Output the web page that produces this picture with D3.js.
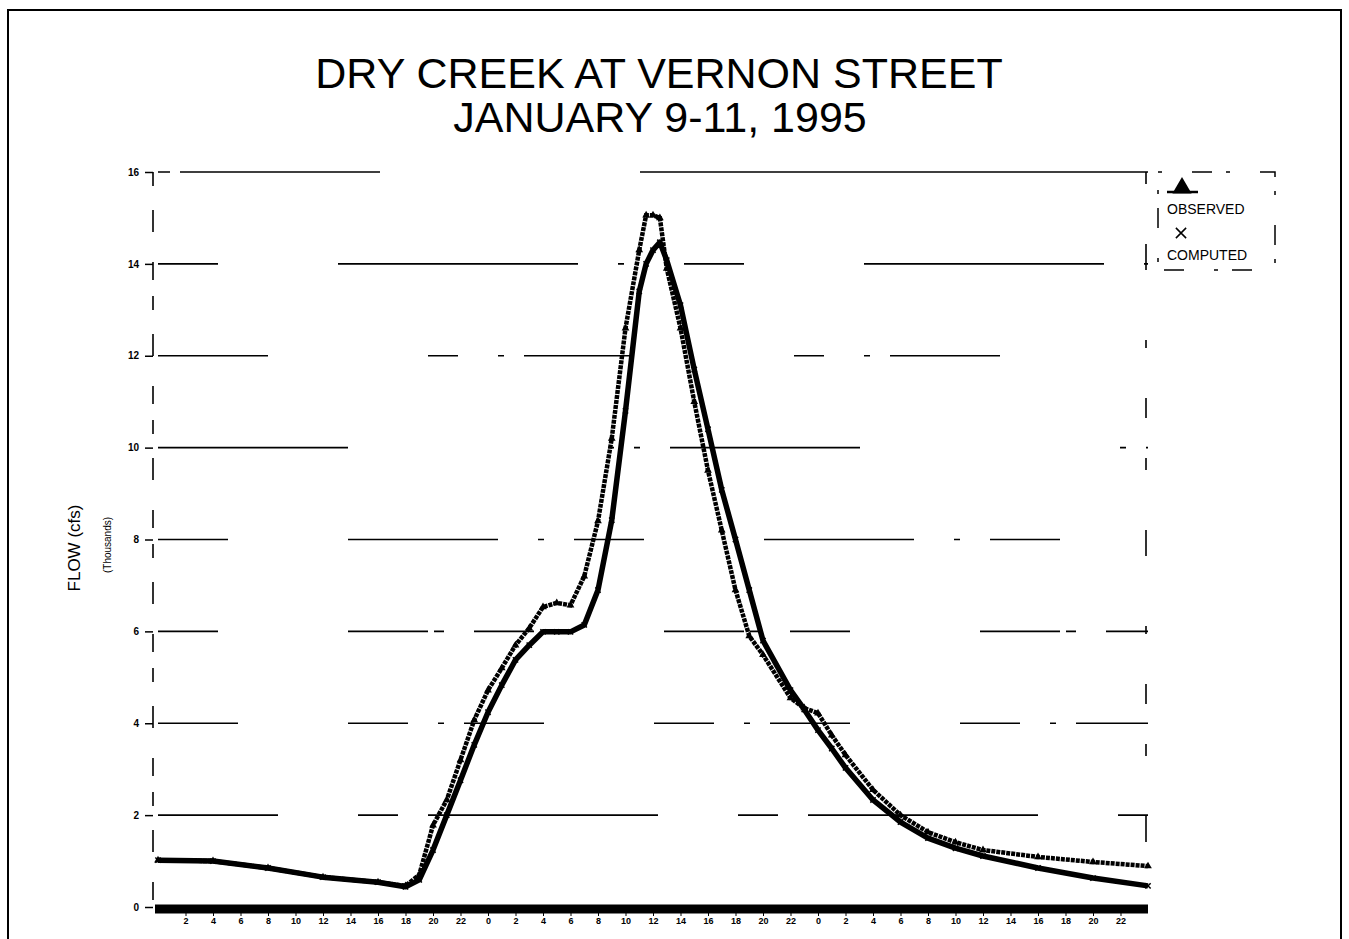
<!DOCTYPE html>
<html>
<head>
<meta charset="utf-8">
<script src="https://cdn.jsdelivr.net/npm/d3@7"></script>
<style>
  body { margin: 0; background: #fff; }
  svg { display: block; font-family: "Liberation Sans", Arial, sans-serif; }
</style>
</head>
<body>
<svg id="chart" width="1349" height="939"></svg>
<script>
// hours since 0:00 Jan 9 1995
var hours = [0, 4, 8, 12, 16, 18, 19, 20, 21, 22, 23, 24, 25, 26, 27, 28, 29, 30, 31, 32, 33, 34, 35, 35.5, 36, 36.5, 37, 38, 39, 40, 41, 42, 43, 44, 46, 47, 48, 49, 50, 52, 54, 56, 58, 60, 64, 68, 72];

// flow, thousands cfs
var observed = [1.02, 1.0, 0.85, 0.65, 0.54, 0.46, 0.7, 1.78, 2.33, 3.2, 4.07, 4.72, 5.2, 5.7, 6.07, 6.53, 6.62, 6.57, 7.2, 8.4, 10.2, 12.6, 14.3, 15.06, 15.06, 15.0, 13.9, 12.6, 11.0, 9.5, 8.2, 6.9, 5.9, 5.49, 4.55, 4.33, 4.22, 3.74, 3.31, 2.55, 2.0, 1.63, 1.41, 1.24, 1.09, 0.98, 0.89];
var computed = [1.02, 1.0, 0.85, 0.65, 0.54, 0.44, 0.59, 1.24, 2.0, 2.76, 3.53, 4.24, 4.83, 5.38, 5.7, 5.99, 5.99, 5.99, 6.14, 6.9, 8.42, 10.8, 13.4, 14.0, 14.3, 14.47, 14.08, 13.1, 11.7, 10.4, 9.08, 8.0, 6.9, 5.8, 4.72, 4.3, 3.85, 3.45, 3.03, 2.33, 1.85, 1.5, 1.28, 1.11, 0.85, 0.63, 0.46];

var yTicks = [0, 2, 4, 6, 8, 10, 12, 14, 16];
var xTicks = d3.range(2, 72, 2);

var svg = d3.select("#chart");

// outer frame
svg.append("rect")
  .attr("x", 8).attr("y", 10)
  .attr("width", 1333).attr("height", 940)
  .attr("fill", "none").attr("stroke", "#000").attr("stroke-width", 2);

// title
svg.append("text")
  .attr("x", 659).attr("y", 88)
  .attr("text-anchor", "middle")
  .attr("font-size", 43)
  .text("DRY CREEK AT VERNON STREET");
svg.append("text")
  .attr("x", 660).attr("y", 132)
  .attr("text-anchor", "middle")
  .attr("font-size", 43)
  .text("JANUARY 9-11, 1995");

var x = d3.scaleLinear().domain([0, 72]).range([158, 1148]);
var y = d3.scaleLinear().domain([0, 16]).range([907, 172]);

// gridlines, broken like the scan
var dashes = [
  "210 260 0 0 470 60",
  "120 80 40 30 110 0",
  "80 110 60 30 6 20",
  "60 130 80 6 10 30",
  "70 120 150 40 6 30",
  "190 260 6 20 6 30",
  "110 160 30 40 6 20",
  "60 120 240 40 6 60",
  "12 10 200 260 520 20"
];
svg.append("g").selectAll("line")
  .data(yTicks.slice(1))
  .join("line")
  .attr("x1", x(0)).attr("x2", x(72))
  .attr("y1", function(d) { return y(d); })
  .attr("y2", function(d) { return y(d); })
  .attr("stroke", "#000")
  .attr("stroke-width", 1.6)
  .attr("stroke-dasharray", function(d, i) { return dashes[(i + 1) % dashes.length]; });

// left and right frame lines (broken)
svg.append("line")
  .attr("x1", 153).attr("x2", 153)
  .attr("y1", y(16)).attr("y2", y(0))
  .attr("stroke", "#000").attr("stroke-width", 1.6)
  .attr("stroke-dasharray", "14 24 22 30 18 16");
svg.append("line")
  .attr("x1", 1146).attr("x2", 1146)
  .attr("y1", y(16)).attr("y2", y(0))
  .attr("stroke", "#000").attr("stroke-width", 1.6)
  .attr("stroke-dasharray", "12 60 26 70 8 50 20 40");

// y axis labels
var yAxis = d3.axisLeft(y).tickValues(yTicks).tickSize(8).tickPadding(6);
var gy = svg.append("g").attr("transform", "translate(153,0)").call(yAxis);
gy.select(".domain").remove();
gy.selectAll("line").attr("stroke-width", 1.5);
gy.selectAll("text").attr("font-size", 10).attr("font-weight", "bold");

// x axis: thick base bar + hour labels
svg.append("line")
  .attr("x1", 155).attr("x2", x(72))
  .attr("y1", 909).attr("y2", 909)
  .attr("stroke", "#000").attr("stroke-width", 9);
var xAxis = d3.axisBottom(x).tickValues(xTicks).tickSize(4).tickPadding(2)
  .tickFormat(function(d) { return d % 24; });
var gx = svg.append("g").attr("transform", "translate(0,912)").call(xAxis);
gx.select(".domain").remove();
gx.selectAll("text").attr("font-size", 9).attr("font-weight", "bold");

// axis title
svg.append("text")
  .attr("transform", "translate(80,548) rotate(-90)")
  .attr("text-anchor", "middle")
  .attr("font-size", 17)
  .text("FLOW (cfs)");
svg.append("text")
  .attr("transform", "translate(111,545) rotate(-90)")
  .attr("text-anchor", "middle")
  .attr("font-size", 10)
  .text("(Thousands)");

// series
var obsData = hours.map(function(h, i) { return [h, observed[i]]; });
var compData = hours.map(function(h, i) { return [h, computed[i]]; });

var line = d3.line()
  .x(function(d) { return x(d[0]); })
  .y(function(d) { return y(d[1]); });

svg.append("path")
  .datum(compData)
  .attr("d", line)
  .attr("fill", "none").attr("stroke", "#000")
  .attr("stroke-width", 5.5).attr("stroke-linejoin", "round");

svg.append("path")
  .datum(obsData)
  .attr("d", line)
  .attr("fill", "none").attr("stroke", "#000")
  .attr("stroke-width", 4.5).attr("stroke-dasharray", "4 1");

var tri = d3.symbol().type(d3.symbolTriangle).size(26);
svg.append("g").selectAll("path")
  .data(obsData)
  .join("path")
  .attr("d", tri)
  .attr("transform", function(d) { return "translate(" + x(d[0]) + "," + y(d[1]) + ")"; })
  .attr("fill", "#000");

var cross = d3.symbol().type(d3.symbolX).size(20);
svg.append("g").selectAll("path")
  .data(compData)
  .join("path")
  .attr("d", cross)
  .attr("transform", function(d) { return "translate(" + x(d[0]) + "," + y(d[1]) + ")"; })
  .attr("fill", "none").attr("stroke", "#000").attr("stroke-width", 1.5);

// legend
var lg = svg.append("g");
lg.append("rect")
  .attr("x", 1158).attr("y", 172)
  .attr("width", 117).attr("height", 98)
  .attr("fill", "none").attr("stroke", "#000").attr("stroke-width", 1.5)
  .attr("stroke-dasharray", "4 30 20 14");
lg.append("path")
  .attr("d", d3.symbol().type(d3.symbolTriangle).size(160))
  .attr("transform", "translate(1182,188)")
  .attr("fill", "#000");
lg.append("line")
  .attr("x1", 1167).attr("x2", 1198).attr("y1", 192).attr("y2", 192)
  .attr("stroke", "#000").attr("stroke-width", 2.5);
lg.append("text")
  .attr("x", 1167).attr("y", 214)
  .attr("font-size", 14)
  .text("OBSERVED");
lg.append("path")
  .attr("d", d3.symbol().type(d3.symbolX).size(70))
  .attr("transform", "translate(1181,233)")
  .attr("fill", "none").attr("stroke", "#000").attr("stroke-width", 1.5);
lg.append("text")
  .attr("x", 1167).attr("y", 260)
  .attr("font-size", 14)
  .text("COMPUTED");
</script>
</body>
</html>
